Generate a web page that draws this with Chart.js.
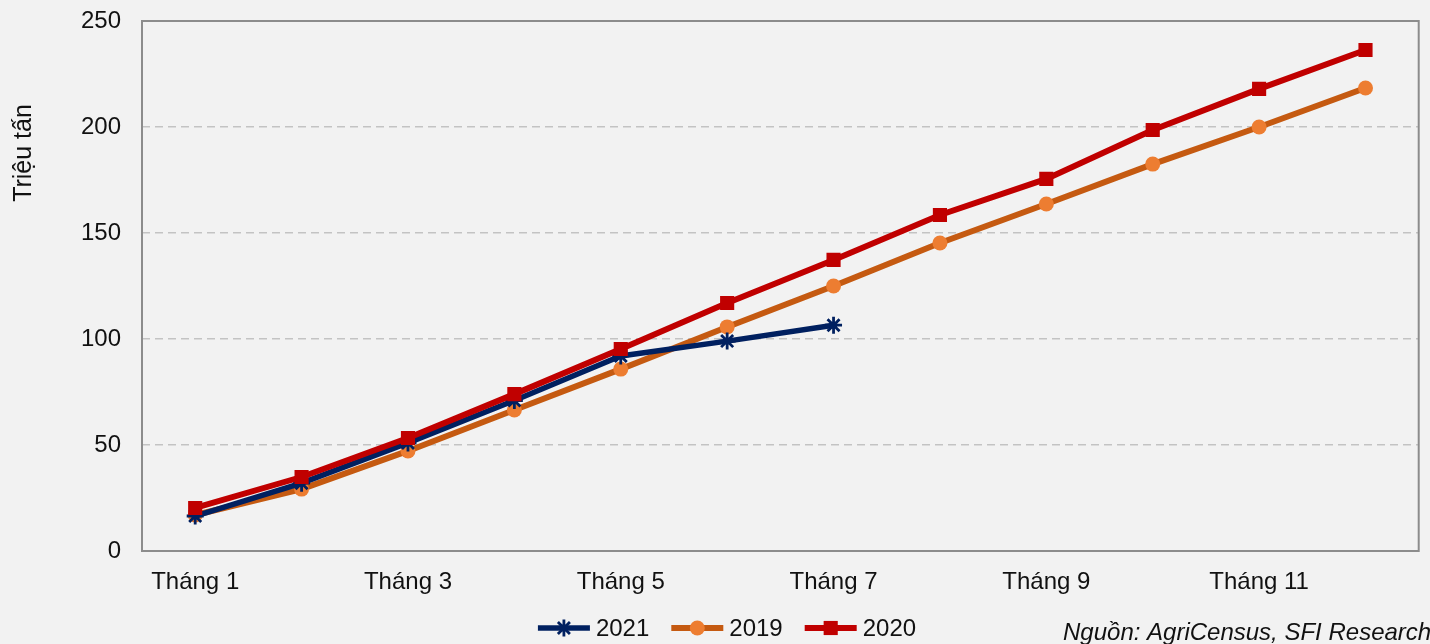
<!DOCTYPE html>
<html>
<head>
<meta charset="utf-8">
<script src="https://cdn.jsdelivr.net/npm/chart.js@4/dist/chart.umd.min.js"></script>
<style>
  html, body { margin: 0; padding: 0; background: #f2f2f2; }
  #wrap { width: 1430px; height: 644px; position: relative; }
</style>
</head>
<body>
<div id="wrap"><canvas id="c" width="1430" height="644"></canvas></div>
<script>
const categories = ["Tháng 1","Tháng 2","Tháng 3","Tháng 4","Tháng 5","Tháng 6","Tháng 7","Tháng 8","Tháng 9","Tháng 10","Tháng 11","Tháng 12"];
const series2021 = [16.5, 32, 51, 71, 92, 99, 106.5];
const series2019 = [17, 29.2, 47.2, 66.5, 85.8, 105.7, 125, 145.3, 163.7, 182.5, 200, 218.4];
const series2020 = [20.3, 34.9, 53.3, 74, 95.3, 117, 137.3, 158.5, 175.5, 198.6, 218, 236.3];
const yTicks = [0, 50, 100, 150, 200, 250];
const yTitle = "Triệu tấn";
const sourceNote = "Nguồn: AgriCensus, SFI Research";

const FONT = "'Liberation Sans', Arial, sans-serif";

function drawMarker(ctx, d, x, y) {
  ctx.save();
  ctx.fillStyle = d.pointBackgroundColor;
  ctx.strokeStyle = d.pointBorderColor;
  ctx.lineWidth = d.pointBorderWidth;
  Chart.helpers.drawPoint(ctx, {pointStyle: d.pointStyle, radius: d.pointRadius, borderWidth: d.pointBorderWidth, rotation: 0}, x, y);
  ctx.restore();
}

const extras = {
  id: 'extras',
  beforeDatasetsDraw(chart) {
    const {ctx, chartArea: a} = chart;
    ctx.save();
    ctx.strokeStyle = '#8c8c8c';
    ctx.lineWidth = 2;
    ctx.strokeRect(a.left, a.top, a.right - a.left, a.bottom - a.top);
    ctx.restore();
  },
  afterDraw(chart) {
    const {ctx} = chart;
    ctx.save();
    ctx.fillStyle = '#111';
    ctx.font = '25px ' + FONT;
    ctx.translate(24, 153);
    ctx.rotate(-Math.PI / 2);
    ctx.textAlign = 'center';
    ctx.textBaseline = 'middle';
    ctx.fillText(yTitle, 0, 0);
    ctx.restore();

    ctx.save();
    ctx.fillStyle = '#111';
    ctx.font = 'italic 24px ' + FONT;
    ctx.textAlign = 'left';
    ctx.textBaseline = 'alphabetic';
    ctx.fillText(sourceNote, 1063, 640);
    ctx.restore();

    ctx.save();
    ctx.font = '24px ' + FONT;
    ctx.textBaseline = 'middle';
    ctx.textAlign = 'left';
    const ds = chart.data.datasets;
    const lineW = 52, gap = 6, itemGap = 22, cy = 628;
    let total = 0;
    ds.forEach((d, i) => { total += lineW + gap + ctx.measureText(d.label).width + (i < ds.length - 1 ? itemGap : 0); });
    let x = 727 - total / 2;
    ds.forEach(d => {
      ctx.strokeStyle = d.borderColor;
      ctx.lineWidth = d.borderWidth;
      ctx.lineCap = 'butt';
      ctx.beginPath();
      ctx.moveTo(x, cy); ctx.lineTo(x + lineW, cy);
      ctx.stroke();
      drawMarker(ctx, d, x + lineW / 2, cy);
      ctx.fillStyle = '#111';
      ctx.fillText(d.label, x + lineW + gap, cy + 1);
      x += lineW + gap + ctx.measureText(d.label).width + itemGap;
    });
    ctx.restore();
  }
};

const chart = new Chart(document.getElementById('c'), {
  type: 'line',
  data: {
    labels: categories,
    datasets: [
      {
        label: '2021', data: series2021, order: 1,
        borderColor: '#002060', backgroundColor: '#002060', borderWidth: 5.5,
        pointStyle: 'star', pointRadius: 8.5, pointBorderWidth: 2.8,
        pointBorderColor: '#002060', pointBackgroundColor: '#002060'
      },
      {
        label: '2019', data: series2019, order: 2,
        borderColor: '#c55a11', backgroundColor: '#ed7d31', borderWidth: 6,
        pointStyle: 'circle', pointRadius: 7.5, pointBorderWidth: 0,
        pointBorderColor: '#ed7d31', pointBackgroundColor: '#ed7d31'
      },
      {
        label: '2020', data: series2020, order: 0,
        borderColor: '#c00000', backgroundColor: '#c00000', borderWidth: 6,
        pointStyle: 'rect', pointRadius: 10, pointBorderWidth: 0,
        pointBorderColor: '#c00000', pointBackgroundColor: '#c00000'
      }
    ]
  },
  options: {
    responsive: false,
    animation: false,
    devicePixelRatio: 1,
    layout: { padding: { top: 21, right: 7, bottom: 0, left: 0 } },
    elements: { line: { tension: 0 } },
    plugins: {
      legend: { display: false },
      tooltip: { enabled: false },
      title: { display: false }
    },
    scales: {
      x: {
        offset: true,
        grid: { display: false, drawTicks: false },
        border: { display: false },
        ticks: {
          autoSkip: false, maxRotation: 0, padding: 17,
          color: '#111', font: { family: FONT, size: 24 },
          callback: function(v, i) { return i % 2 === 0 ? categories[i] : ''; }
        },
        afterFit(s) { s.height = 93; s.paddingLeft = 0; s.paddingRight = 0; }
      },
      y: {
        min: 0, max: 250,
        afterBuildTicks(s) { s.ticks = yTicks.map(v => ({value: v})); },
        grid: { color: '#c3c3c3', lineWidth: 1.5, drawTicks: false },
        border: { display: false, dash: [8, 5] },
        ticks: { padding: 21, color: '#111', font: { family: FONT, size: 24 } },
        afterFit(s) { s.width = 142; s.paddingTop = 0; s.paddingBottom = 0; }
      }
    }
  },
  plugins: [extras]
});
</script>
</body>
</html>
